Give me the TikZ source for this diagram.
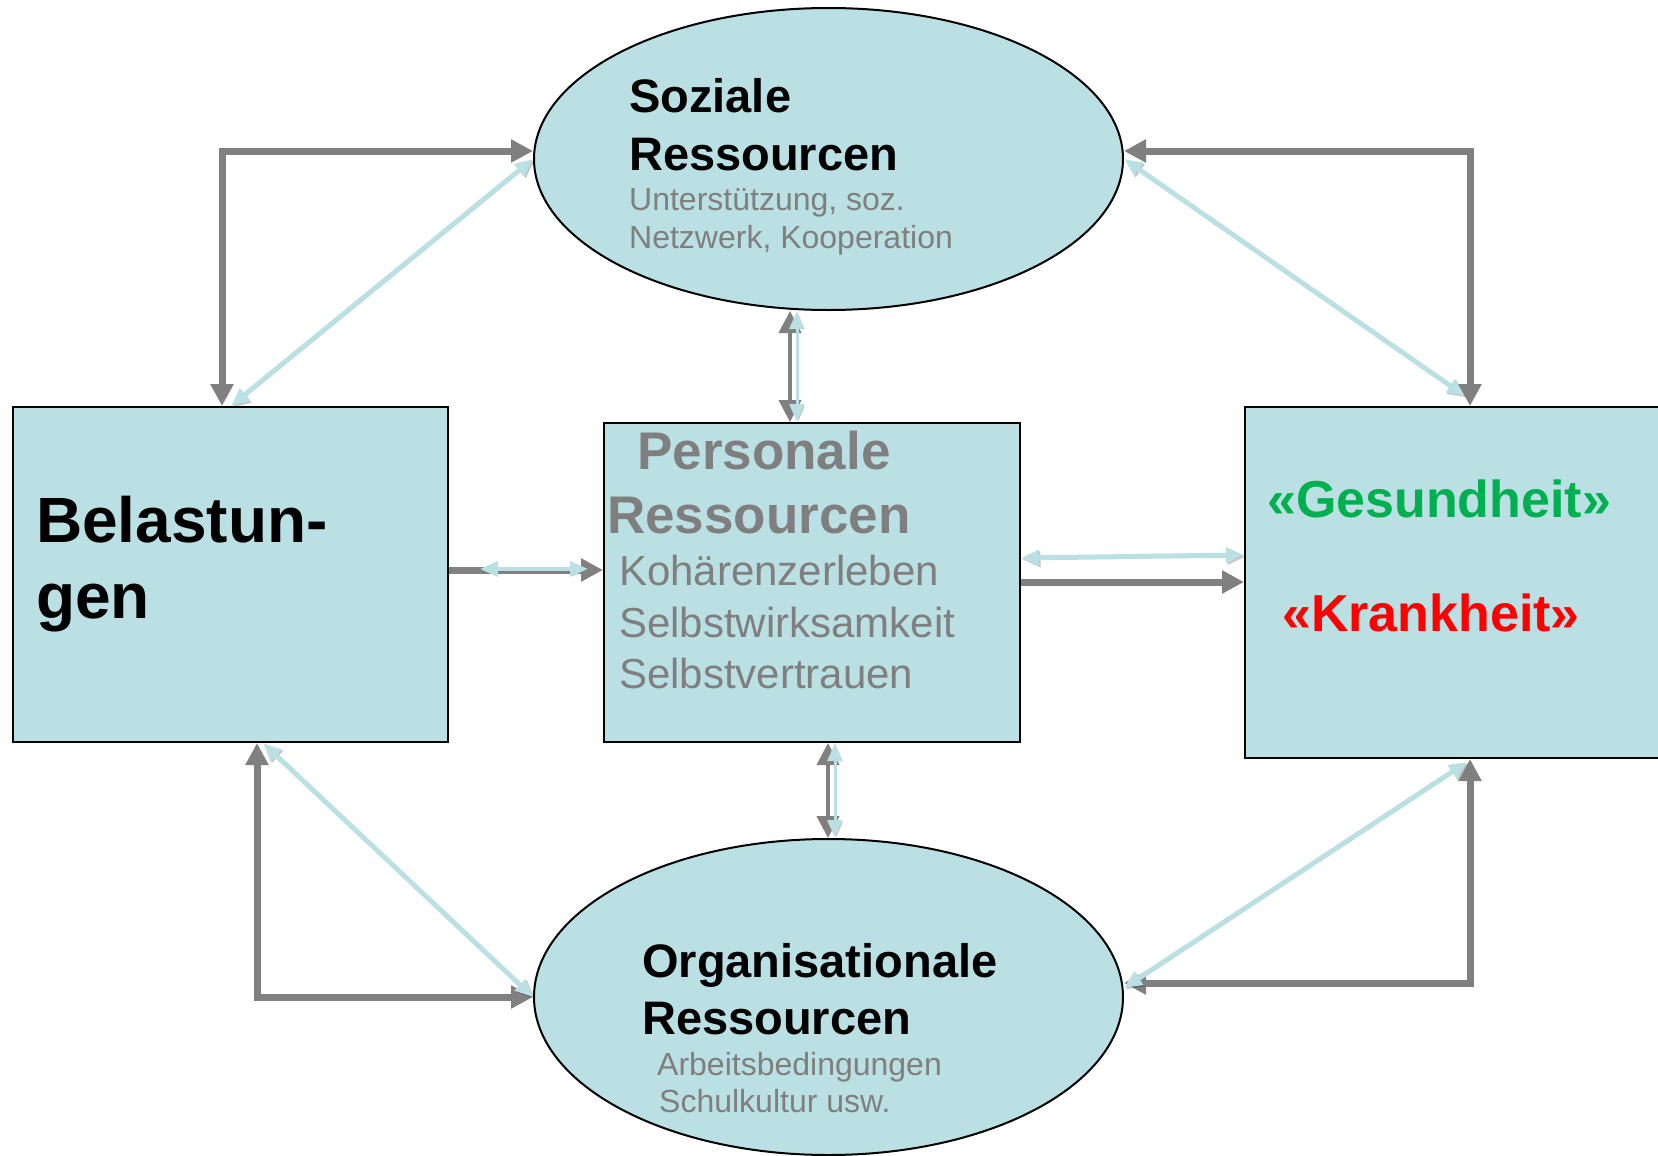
\documentclass[tikz,border=0pt]{standalone}
\usepackage{fontspec}
\setmainfont{Liberation Sans}
\usetikzlibrary{arrows.meta,shapes.geometric}
\definecolor{boxblue}{HTML}{BBE0E3}
\definecolor{arrowgray}{HTML}{808080}
\definecolor{textgray}{HTML}{7F7F7F}
\definecolor{gesund}{HTML}{00B050}
\definecolor{krank}{HTML}{FF0000}
\tikzset{
  gtip/.tip={Triangle[width=22pt,length=22pt]},
  btip/.tip={Triangle[width=15pt,length=18pt]},
  res/.style={ellipse, draw=black, line width=2pt, fill=boxblue, inner sep=0pt},
  block/.style={rectangle, draw=black, line width=2pt, fill=boxblue, inner sep=0pt},
  graylink/.style={draw=arrowgray, line width=7pt},
  bluelink/.style={draw=boxblue, line width=5pt, btip-btip,
    preaction={draw=black, opacity=0.22, transform canvas={shift={(1.5pt,-1.5pt)}}}},
  lbl/.style={anchor=base west, inner sep=0pt},
  head/.style={lbl, font=\fontsize{47}{57}\selectfont\bfseries},
  sub/.style={lbl, text=textgray, font=\fontsize{32}{38}\selectfont},
}
\begin{document}
\begin{tikzpicture}[x=1pt,y=-1pt]
\useasboundingbox (0,0) rectangle (1658,1156);

% boxes and ellipses
\node[res, minimum width=589pt, minimum height=302pt] (soz) at (828.5,159) {};
\node[res, minimum width=589pt, minimum height=316pt] (org) at (828.5,997) {};
\node[block, minimum width=435pt, minimum height=335pt] (lbox) at (230.5,574.5) {};
\node[block, minimum width=416pt, minimum height=319pt] (mbox) at (812,582.5) {};
\node[block, minimum width=460pt, minimum height=351pt] (rbox) at (1475,582.5) {};

% top left
\draw[graylink, gtip-gtip] (lbox.north -| 222,0) |- ([yshift=8pt]soz.west);
\draw[bluelink] (lbox.north -| 231,0) -- (soz.west);
% top right
\draw[graylink, gtip-gtip] (rbox.north -| 1470,0) |- ([yshift=8pt]soz.east);
\coordinate (trb) at (1465,396);
\draw[bluelink] (soz.east) -- (trb);
% bottom left
\draw[graylink, gtip-gtip] (lbox.south -| 257,0) |- (org.west);
\draw[bluelink] (lbox.south -| 263,0) -- (org.west);
% bottom right
\draw[graylink, gtip-gtip] (rbox.south -| 1470,0) |- ([yshift=14pt]org.east);
\coordinate (brb) at (1467,762);
\draw[bluelink] ([yshift=9pt]org.east) -- (brb);

% middle column
\draw[graylink, gtip-gtip, line width=4pt] (soz.south -| 790,0) -- (mbox.north -| 790,0);
\draw[bluelink, line width=3pt] (soz.south -| 797,0) -- (mbox.north -| 797,0);
\draw[graylink, gtip-gtip, line width=4pt] (mbox.south -| 828,0) -- (org.north -| 828,0);
\draw[bluelink, line width=3pt] (mbox.south -| 835,0) -- (org.north -| 835,0);

% middle row
\draw[graylink, -gtip] (lbox.east |- 0,570) -- (mbox.west |- 0,570);
\coordinate (mla) at (480,569);
\coordinate (mlb) at (588,569);
\draw[bluelink, line width=4pt] (mla) -- (mlb);
\draw[bluelink] (mbox.east |- 0,558) -- (rbox.west |- 0,555);
\draw[graylink, -gtip] (mbox.east |- 0,582) -- (rbox.west |- 0,582);

% texts
\node[head] (soz1) at (629,113) {Soziale};
\node[head] (soz2) at (629,170) {Ressourcen};
\node[sub] (soz3) at (629,210) {Unterstützung, soz.};
\node[sub] (soz4) at (629,248) {Netzwerk, Kooperation};

\node[lbl, text=textgray, font=\fontsize{53}{60}\selectfont\bfseries] (per1) at (637,469) {Personale};
\node[lbl, text=textgray, font=\fontsize{53}{60}\selectfont\bfseries] (per2) at (607,533) {Ressourcen};
\node[sub, font=\fontsize{42}{50}\selectfont] (per3) at (619,585) {Kohärenzerleben};
\node[sub, font=\fontsize{42}{50}\selectfont] (per4) at (619,637) {Selbstwirksamkeit};
\node[sub, font=\fontsize{42}{50}\selectfont] (per5) at (619,688) {Selbstvertrauen};

\node[lbl, font=\fontsize{64}{72}\selectfont\bfseries] (bel1) at (36,542) {Belastun-};
\node[lbl, font=\fontsize{64}{72}\selectfont\bfseries] (bel2) at (36,618) {gen};

\node[lbl, text=gesund, font=\fontsize{52}{60}\selectfont\bfseries] (ges) at (1267,517) {«Gesundheit»};
\node[lbl, text=krank, font=\fontsize{52}{60}\selectfont\bfseries] (kra) at (1282,631) {«Krankheit»};

\node[head] (org1) at (642,977) {Organisationale};
\node[head] (org2) at (642,1034) {Ressourcen};
\node[sub] (org3) at (657,1075) {Arbeitsbedingungen};
\node[sub] (org4) at (659,1112) {Schulkultur usw.};
\end{tikzpicture}
\end{document}
